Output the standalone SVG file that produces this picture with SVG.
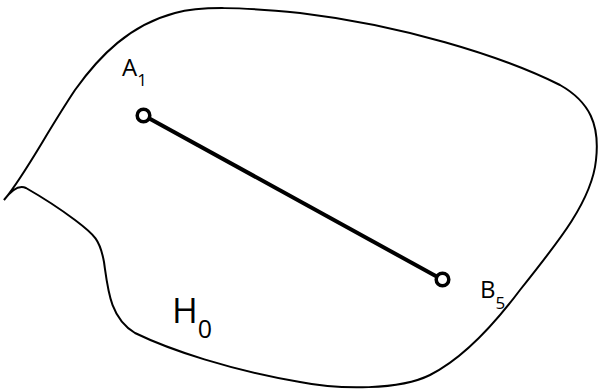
<svg xmlns="http://www.w3.org/2000/svg" width="599" height="391" viewBox="0 0 599 391">
<style>
.t{font-family:"Open Sans","Liberation Sans",sans-serif;fill:#000}
.pt{fill:#fff;stroke:#000;stroke-width:3.5}
</style>
<rect width="599" height="391" fill="#fff"/>
<g id="region">
<path d="M4,200 C25,175 45,135 75,90 C100,55 130,25 175,13 C200,6 240,7 300,13 C400,25 500,55 560,85 C590,102 600,125 596,160 C592,200 560,240 520,290 C490,330 460,360 430,375 C400,390 340,390 300,382 C230,370 170,350 135,333 C110,318 108,290 104,262 C100,240 95,235 75,220 C55,205 40,196 26,188 C18,184 10,192 4,200 Z" fill="none" stroke="#000" stroke-width="2"/>
<text class="t" x="172" y="323" font-size="35">H<tspan font-size="25" dy="15">0</tspan></text>
</g>
<g id="connectors">
<line x1="143" y1="115" x2="443" y2="280" stroke="#000" stroke-width="4"/>
</g>
<g id="A1">
<circle class="pt" cx="143.5" cy="115.5" r="6.3"/>
<text class="t" x="122" y="76" font-size="24">A<tspan font-size="17" dy="10">1</tspan></text>
</g>
<g id="B5">
<circle class="pt" cx="442.5" cy="279.5" r="6.3"/>
<text class="t" x="480" y="298" font-size="24">B<tspan font-size="17" dy="11">5</tspan></text>
</g>
</svg>
